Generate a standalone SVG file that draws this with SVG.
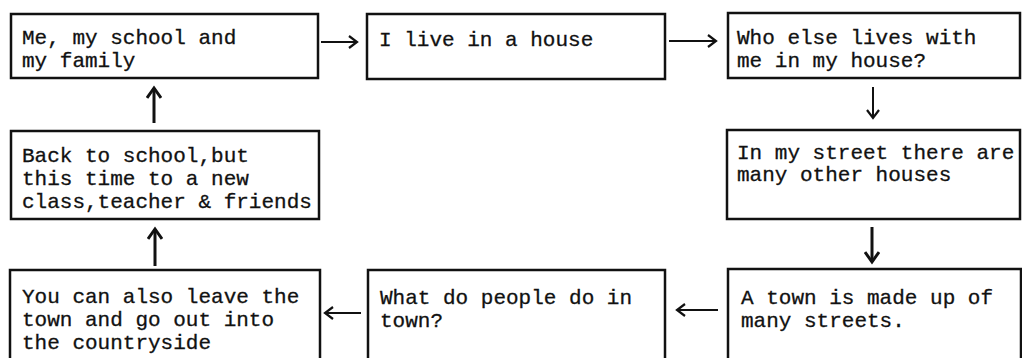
<svg xmlns="http://www.w3.org/2000/svg" width="1022" height="358" viewBox="0 0 1022 358">
<style>
.box{fill:#fff;stroke:#111;stroke-width:2.5}
.t{font-family:"Liberation Mono","DejaVu Sans Mono",monospace;font-size:21px;fill:#111;stroke:#111;stroke-width:0.3}
.c{fill:none;stroke:#111;stroke-width:2}
.ct{fill:none;stroke:#111;stroke-width:3}
</style>
<defs>
<marker id="ah" viewBox="0 0 14 14" refX="12" refY="7" markerWidth="14" markerHeight="14" markerUnits="userSpaceOnUse" orient="auto">
<path d="M4,1 L12,7 L4,13" fill="none" stroke="#111" stroke-width="2.2"/>
</marker>
<marker id="ahb" viewBox="0 0 16 16" refX="13" refY="8" markerWidth="16" markerHeight="16" markerUnits="userSpaceOnUse" orient="auto">
<path d="M3,1 L13,8 L3,15" fill="none" stroke="#111" stroke-width="3"/>
</marker>
</defs>
<g id="connectors">
<line class="c" x1="321" y1="42" x2="357" y2="42" marker-end="url(#ah)"/>
<line class="c" x1="669" y1="41" x2="716" y2="41" marker-end="url(#ah)"/>
<line class="c" x1="873" y1="87" x2="873" y2="118" marker-end="url(#ah)"/>
<line class="ct" x1="872" y1="227" x2="872" y2="262" marker-end="url(#ahb)"/>
<line class="c" x1="718" y1="310" x2="677" y2="310" marker-end="url(#ah)"/>
<line class="c" x1="361" y1="313" x2="325" y2="313" marker-end="url(#ah)"/>
<line class="ct" x1="155" y1="266" x2="155" y2="229" marker-end="url(#ahb)"/>
<line class="ct" x1="154" y1="123" x2="154" y2="88" marker-end="url(#ahb)"/>
</g>
<g id="n1"><rect class="box" x="11" y="14" width="307" height="64"/>
<text class="t" x="22" y="44">Me, my school and</text><text class="t" x="22" y="67">my family</text></g>
<g id="n2"><rect class="box" x="367" y="14" width="298" height="65"/>
<text class="t" x="379" y="46">I live in a house</text></g>
<g id="n3"><rect class="box" x="728" y="13" width="292" height="65"/>
<text class="t" x="737" y="44">Who else lives with</text><text class="t" x="737" y="67">me in my house?</text></g>
<g id="n4"><rect class="box" x="11" y="131" width="308" height="88"/>
<text class="t" x="22" y="162">Back to school,but</text><text class="t" x="22" y="185">this time to a new</text><text class="t" x="22" y="208">class,teacher &amp; friends</text></g>
<g id="n5"><rect class="box" x="727" y="130" width="293" height="89"/>
<text class="t" x="737" y="159">In my street there are</text><text class="t" x="737" y="181">many other houses</text></g>
<g id="n6"><rect class="box" x="10" y="270" width="310" height="100"/>
<text class="t" x="22" y="303">You can also leave the</text><text class="t" x="22" y="326">town and go out into</text><text class="t" x="22" y="349">the countryside</text></g>
<g id="n7"><rect class="box" x="368" y="270" width="297" height="100"/>
<text class="t" x="380" y="304">What do people do in</text><text class="t" x="380" y="327">town?</text></g>
<g id="n8"><rect class="box" x="728" y="269" width="293" height="100"/>
<text class="t" x="741" y="304">A town is made up of</text><text class="t" x="741" y="327">many streets.</text></g>
</svg>
